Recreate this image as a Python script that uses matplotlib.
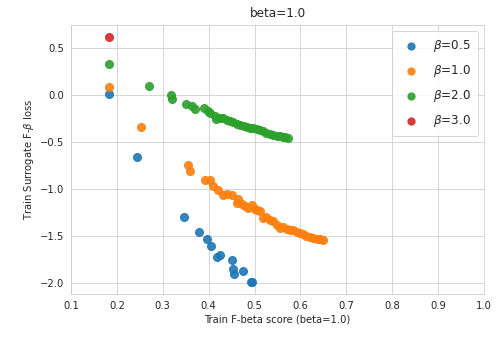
import numpy as np
import matplotlib
matplotlib.use("Agg")
import matplotlib.pyplot as plt
import seaborn as sns

# values
beta_05_x = [0.182, 0.244, 0.346, 0.379, 0.396, 0.405, 0.419, 0.425,
             0.451, 0.453, 0.456, 0.475, 0.492, 0.495]
beta_05_y = [0.01, -0.66, -1.30, -1.46, -1.53, -1.61, -1.73, -1.71,
             -1.76, -1.86, -1.91, -1.88, -1.99, -1.99]

beta_10_x = [0.182, 0.252, 0.356, 0.360, 0.393, 0.404, 0.410, 0.420,
             0.432, 0.440, 0.450, 0.461, 0.465, 0.472, 0.479, 0.486,
             0.494, 0.500, 0.506, 0.512, 0.519, 0.526, 0.533, 0.541,
             0.548, 0.555, 0.562, 0.570, 0.577, 0.584, 0.592, 0.599,
             0.606, 0.613, 0.621, 0.628, 0.635, 0.642, 0.650]
beta_10_y = [0.09, -0.335, -0.74, -0.81, -0.90, -0.90, -0.97, -1.01,
             -1.06, -1.05, -1.06, -1.15, -1.11, -1.16, -1.185, -1.20,
             -1.167, -1.21, -1.22, -1.24, -1.31, -1.30, -1.33, -1.345,
             -1.38, -1.415, -1.41, -1.43, -1.435, -1.44, -1.46, -1.47,
             -1.48, -1.50, -1.51, -1.52, -1.53, -1.53, -1.55]

beta_20_x = [0.182, 0.271, 0.319, 0.320, 0.351, 0.363, 0.370, 0.390,
             0.398, 0.403, 0.414, 0.417, 0.425, 0.432, 0.439, 0.446,
             0.454, 0.461, 0.468, 0.476, 0.483, 0.490, 0.497, 0.505,
             0.512, 0.519, 0.526, 0.533, 0.540, 0.548, 0.555, 0.562,
             0.566, 0.573]
beta_20_y = [0.33, 0.10, 0.00, -0.04, -0.096, -0.12, -0.15, -0.14,
             -0.17, -0.185, -0.22, -0.257, -0.24, -0.24, -0.26, -0.275,
             -0.29, -0.31, -0.32, -0.33, -0.335, -0.345, -0.355, -0.364,
             -0.375, -0.385, -0.40, -0.41, -0.42, -0.43, -0.44, -0.445,
             -0.45, -0.46]

beta_30_x = [0.182]
beta_30_y = [0.62]

series = [
    (beta_05_x, beta_05_y, r"$\beta$=0.5"),
    (beta_10_x, beta_10_y, r"$\beta$=1.0"),
    (beta_20_x, beta_20_y, r"$\beta$=2.0"),
    (beta_30_x, beta_30_y, r"$\beta$=3.0"),
]
x_ticks = np.round(np.arange(0.1, 1.01, 0.1), 1)


def main():
    sns.set_style("whitegrid")
    plt.rcParams["font.family"] = ["DejaVu Sans"]
    colors = sns.color_palette("tab10")

    fig = plt.figure(figsize=(496 / 72, 337 / 72), dpi=72)
    ax = fig.add_axes([0.143, 0.128, 0.833, 0.798])

    for i, (xs, ys, label) in enumerate(series):
        ax.scatter(xs, ys, s=64, color=colors[i], alpha=0.9, label=label)

    ax.set_xlim(0.1, 1.0)
    ax.set_xticks(x_ticks)
    ax.set_title("beta=1.0", pad=8)
    ax.set_xlabel("Train F-beta score (beta=1.0)")
    ax.set_ylabel(r"Train Surrogate F-$\beta$ loss")
    ax.legend(loc="upper right", frameon=True, fontsize=12,
              borderpad=0.6, labelspacing=0.75, markerscale=0.9)

    fig.savefig("out.png", dpi=72)


if __name__ == "__main__":
    main()
